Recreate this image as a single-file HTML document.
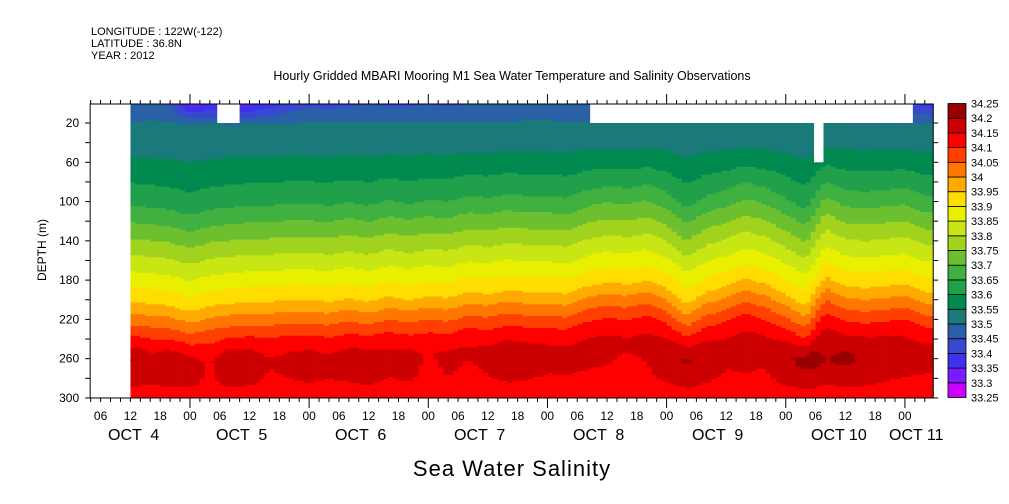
<!DOCTYPE html>
<html><head><meta charset="utf-8">
<style>
html,body{margin:0;padding:0;background:#fff;}
svg{display:block;font-family:"Liberation Sans",sans-serif;}
</style></head>
<body>
<svg id="chart" width="1009" height="504" viewBox="0 0 1009 504" xmlns="http://www.w3.org/2000/svg">
<text x="91" y="35" font-size="11">LONGITUDE : 122W(-122)</text>
<text x="91" y="47" font-size="11">LATITUDE : 36.8N</text>
<text x="91" y="59" font-size="11">YEAR : 2012</text>
<text x="512" y="80" font-size="12.5" text-anchor="middle">Hourly Gridded MBARI Mooring M1 Sea Water Temperature and Salinity Observations</text>
<g id="field"></g>
<g id="masks"></g>
<g id="axes"></g>
<g id="cbar"></g>
<text x="512" y="476" font-size="22" text-anchor="middle" font-family="Liberation Sans, sans-serif" letter-spacing="1">Sea Water Salinity</text>
</svg>
<script>
// data
const levels = [33.25,33.3,33.35,33.4,33.45,33.5,33.55,33.6,33.65,33.7,33.75,33.8,33.85,33.9,33.95,34,34.05,34.1,34.15,34.2,34.25];
const colors = ["#cc00ff","#7a1aff","#4030f0","#3848d0","#2a60a8","#1a7a7a","#008a50","#20a04a","#40b040","#6cc030","#a0d21e","#c8e614","#e8f000","#ffdd00","#ffaa00","#ff7700","#ff4000","#ff0000","#cc0000","#990000"];
const profileDepths = [0,10,20,40,60,80,100,120,140,160,180,200,220,240,260,280,300];
const profileSal = [33.43,33.47,33.505,33.53,33.56,33.6,33.64,33.7,33.76,33.82,33.88,33.945,34.03,34.11,34.165,34.15,34.13];
// samples every 4h starting Oct 4 12:00 (hour 12)
const sampleStartHour = 12;
const sampleStepHour = 4;
const depthOffset = [0,2,4, 10,4,2,0,0,-2, -2,0,-4,0,-6,-2, -6,-4,-10,-8,-12,-10, -10,-8,-16,-20,-18,-22, -14,2,-10,-16,-24,-18, -8,4,-26,-16,-14,-16, -18,-10,-10];
const deepAnom = [0.04,0.01,0.03, 0.02,-0.02,0.03,0.02,-0.01,0, 0.01,0,0.01,0.02,0,0.01, -0.02,0,-0.01,0,0.02,0.01, 0,0,0,0,-0.01,0, 0.02,0.04,0.02,0,0.01,0, 0.03,0.05,0.05,0.05,0.04,0.02, 0.01,0,0];
const surfAnom = [0.02,0.03,0.02, -0.1,-0.07,-0.1,-0.09,-0.05,-0.02, 0.01,0,0.01,0.02,0.01,0.01, 0.02,0.01,0.02,0.02,0.02,0.03, 0.03,0.02,0.02,0.02,0.03,0.03, 0.02,0.02,0.02,0.01,0.0,0.0, 0,0.02,0.02,0.0,-0.01,0, -0.02,-0.04,-0.06];
const hourTicks = ["06","12","18","00"];
const dayLabels = ["OCT  4","OCT  5","OCT  6","OCT  7","OCT  8","OCT  9","OCT 10","OCT 11"];
const dayLabelX = [108,216,335,454,573,692,811,889];
const depthTicks = [20,60,100,140,180,220,260,300];
const masks = [[3.9,12,0,300],[29.5,34,0,20],[104.6,169.6,0,20],[149.7,151.6,0,60]]; // [h0,h1,d0,d1]

const NS="http://www.w3.org/2000/svg";
const X0=70.8, PXH=4.965, HMIN=3.9, HMAX=173.7;
const xs=h=>X0+h*PXH;
const ys=d=>123+(d-20)*0.982;
const DMIN=0.65, DMAX=300;
function mk(tag,attrs,parent){const e=document.createElementNS(NS,tag);for(const k in attrs)e.setAttribute(k,attrs[k]);parent.appendChild(e);return e;}
function interp(xa,ya,x){if(x<=xa[0])return ya[0];for(let i=1;i<xa.length;i++){if(x<=xa[i]){const t=(x-xa[i-1])/(xa[i]-xa[i-1]);return ya[i-1]+t*(ya[i]-ya[i-1]);}}return ya[ya.length-1];}
function sampleAt(arr,h){const f=(h-sampleStartHour)/sampleStepHour;const i=Math.max(0,Math.min(arr.length-1,Math.floor(f)));const j=Math.min(arr.length-1,i+1);const t=Math.max(0,Math.min(1,f-i));return arr[i]+(arr[j]-arr[i])*t;}
function sal(h,d){
  const off=sampleAt(depthOffset,h);
  const w=Math.max(0,Math.min(1,(d-20)/60))*Math.max(0,Math.min(1,(290-d)/60+0.3));
  let v=interp(profileDepths,profileSal,d-off*w);
  v+=sampleAt(deepAnom,h)*Math.exp(-Math.pow((d-262)/22,2));
  v+=sampleAt(surfAnom,h)*Math.max(0,1-d/22);
  return v;
}
function colorIdx(v){let k=Math.floor((v-levels[0])/0.05);return Math.max(0,Math.min(colors.length-1,k));}
const field=document.getElementById('field');
for(let h=sampleStartHour;h<HMAX;h+=1){
  const x=xs(h), w=Math.min(xs(h+1),xs(HMAX))-x;
  let start=DMIN, cur=colorIdx(sal(h+0.5,DMIN));
  const step=2;
  for(let d=DMIN+step;;d+=step){
    const dd=Math.min(d,DMAX);
    const c=dd>=DMAX?-1:colorIdx(sal(h+0.5,dd));
    if(c!==cur){
      const r=mk('rect',{x:x.toFixed(2),y:ys(start).toFixed(2),width:(w+0.4).toFixed(2),height:(ys(dd)-ys(start)+0.4).toFixed(2),fill:colors[cur]},field);
      
      
      start=dd;cur=c;
    }
    if(dd>=DMAX)break;
  }
}
const mg=document.getElementById('masks');
masks.forEach(m=>{const r=mk('rect',{x:xs(m[0]),y:ys(Math.max(m[2],DMIN)),width:xs(m[1])-xs(m[0]),height:ys(m[3])-ys(Math.max(m[2],DMIN)),fill:'#fff'},mg);

});
const ax=document.getElementById('axes');
const L=xs(HMIN),R=xs(HMAX),T=ys(DMIN),B=ys(DMAX);
const fr=mk('rect',{x:L,y:T,width:R-L,height:B-T,fill:'none',stroke:'#000','stroke-width':1},ax);


for(let h=4;h<=HMAX;h+=2){
  const x=xs(h);const major=(h%24===0);
  mk('line',{x1:x,x2:x,y1:T,y2:T-(major?10:4),stroke:'#000'},ax);
  mk('line',{x1:x,x2:x,y1:B,y2:B+(major?10:4),stroke:'#000'},ax);
  if(h%6===0){const t=mk('text',{x:x,y:B+22,'font-size':12,'text-anchor':'middle'},ax);t.textContent=hourTicks[(h/6-1)%4];
  
  }
}
dayLabels.forEach((s,i)=>{const t=mk('text',{x:dayLabelX[i],y:B+42,'font-size':16,'xml:space':'preserve'},ax);t.textContent=s;t.style.whiteSpace='pre';

});
for(let d=20;d<=300;d+=20){const y=ys(d);mk('line',{x1:L,x2:L-5,y1:y,y2:y,stroke:'#000'},ax);mk('line',{x1:R,x2:R+5,y1:y,y2:y,stroke:'#000'},ax);}
depthTicks.forEach(d=>{const t=mk('text',{x:L-11,y:ys(d)+4,'font-size':12,'text-anchor':'end'},ax);t.textContent=d;

});
const yt=mk('text',{x:46,y:250,'font-size':12,'text-anchor':'middle',transform:'rotate(-90 46 250)'},ax);yt.textContent='DEPTH (m)';


const cb=document.getElementById('cbar');
const CB0=103.5,CB1=397.5,bh=(CB1-CB0)/colors.length;
colors.forEach((c,i)=>{const y=CB1-(i+1)*bh;const r=mk('rect',{x:948,y:y,width:18,height:bh,fill:c,stroke:'#000','stroke-width':0.8},cb);

});
levels.forEach((v,i)=>{const y=CB1-i*bh;const t=mk('text',{x:971,y:y+4,'font-size':11},cb);t.textContent=String(v);

});
</script>
</body></html>
